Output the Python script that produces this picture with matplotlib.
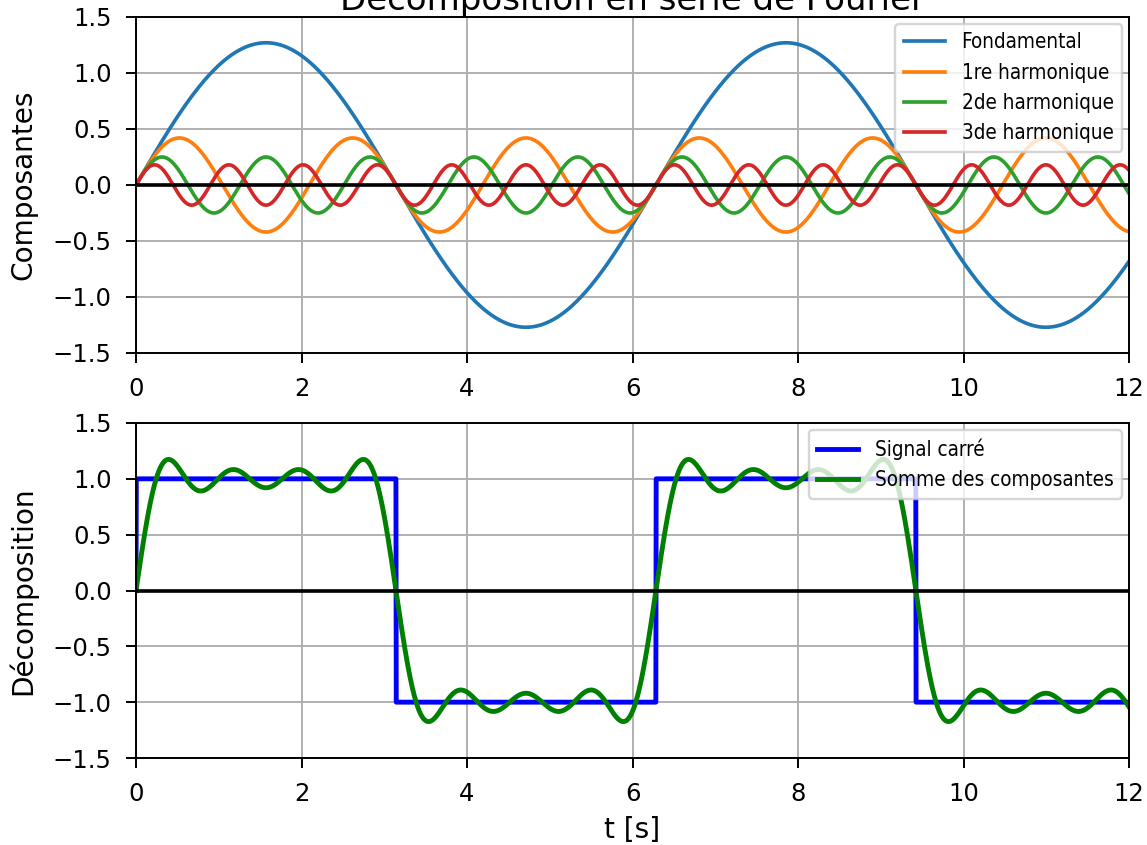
#!/usr/bin/env python3
"""Square wave Fourier decomposition: components and partial sum."""
import numpy as np
import matplotlib
matplotlib.use("Agg")
import matplotlib.pyplot as plt

# amplitudes, odd harmonic orders
component_names = ["Fondamental", "1re harmonique", "2de harmonique", "3de harmonique"]
component_amps = [1.27, 0.42, 0.25, 0.18]
component_orders = [1, 3, 5, 7]
square_amp = 1.0
half_period = np.pi          # sign changes at ~3.14, 6.28, 9.42

t_max = 12.0
x_ticks = [0, 2, 4, 6, 8, 10, 12]
y_ticks = [-1.5, -1.0, -0.5, 0.0, 0.5, 1.0, 1.5]

DPI = 175
W, H = 1147, 845

t = np.linspace(0, t_max, 3000)
components = [a * np.sin(n * t * np.pi / half_period)
              for a, n in zip(component_amps, component_orders)]
square = square_amp * np.sign(np.sin(t * np.pi / half_period))
total = np.sum(components, axis=0)

fig = plt.figure(figsize=(W / DPI, H / DPI), dpi=DPI)
left, right = 136 / W, 1129 / W
ax1 = fig.add_axes([left, 1 - 353 / H, right - left, (353 - 17) / H])
ax2 = fig.add_axes([left, 1 - 758 / H, right - left, (758 - 423) / H])

leg_font = {"family": "DejaVu Sans", "stretch": "condensed", "size": 8.5}
label_size = 11.5

for name, y in zip(component_names, components):
    ax1.plot(t, y, lw=1.5, label=name)
ax1.axhline(0, color="k", lw=1.5)
ax1.set_title("Décomposition en série de Fourier", fontsize=14, pad=2)
ax1.set_ylabel("Composantes", fontsize=label_size, labelpad=6.5)
ax1.legend(loc="upper right", prop=leg_font, borderaxespad=0.35)

ax2.plot(t, square, color="blue", lw=2, label="Signal carré")
ax2.plot(t, total, color="green", lw=2, label="Somme des composantes")
ax2.axhline(0, color="k", lw=1.5)
ax2.set_xlabel("t [s]", fontsize=label_size)
ax2.set_ylabel("Décomposition", fontsize=label_size, labelpad=6.5)
ax2.legend(loc="upper right", prop=leg_font, borderaxespad=0.35)

for ax in (ax1, ax2):
    ax.set_xlim(0, t_max)
    ax.set_ylim(y_ticks[0], y_ticks[-1])
    ax.set_xticks(x_ticks)
    ax.set_yticks(y_ticks)
    ax.tick_params(length=4, pad=6)
    ax.grid(True)

fig.savefig("out.png", dpi=DPI)
